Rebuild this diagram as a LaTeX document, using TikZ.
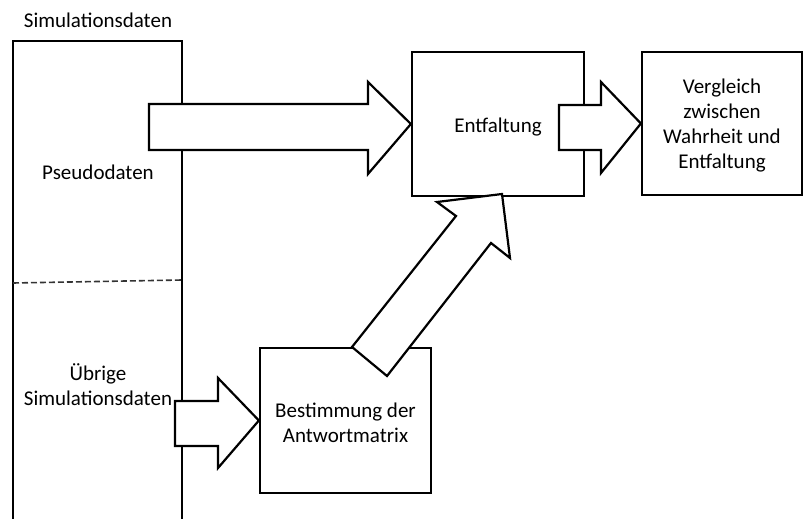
\documentclass[tikz,border=0pt]{standalone}
\usepackage{fontspec}
\setmainfont{Carlito}
\tikzset{
  box/.style={draw=black, line width=2.2pt, fill=white, inner sep=0pt, align=center,
    font=\fontsize{21}{25}\selectfont},
  lbl/.style={inner sep=0pt, align=center, font=\fontsize{21}{25}\selectfont},
  blockarrow/.style={draw=black, line width=2.2pt, fill=white, line join=miter},
  sep/.style={draw=black!80, line width=1.6pt, dash pattern=on 6pt off 3pt}
}
\begin{document}
\begin{tikzpicture}[x=1pt, y=-1pt]
\useasboundingbox (0,0) rectangle (803,519);
% left container
\draw[line width=2.2pt] (13,525) -- (13,41) -- (182,41) -- (182,525);
\draw[sep] (13,283) -- (182,280);
\node[lbl] (sim) at (98,20) {Simulationsdaten};
\node[lbl] (pseudo) at (98,172) {Pseudodaten};
\node[lbl] (uebrig) at (98,385) {Übrige\\Simulationsdaten};
% boxes
\node[box, minimum width=172pt, minimum height=144pt] (entf) at (498,124) {};
\node[lbl] (entftxt) at (498,127) {Entfaltung};
\node[box, minimum width=160pt, minimum height=143pt] (vgl) at (722,123.5) {};
\node[lbl] (vgltxt) at (722,126) {Vergleich\\zwischen\\Wahrheit und\\Entfaltung};
\node[box, minimum width=171pt, minimum height=145pt] (best) at (345.5,420.5) {};
\node[lbl] (besttxt) at (345.5,423) {Bestimmung der\\Antwortmatrix};
% block arrows
\coordinate (a1tip) at (entf.west);
\draw[blockarrow] (149,104) -- (368,104) -- (368,82) -- (a1tip) -- (368,174) -- (368,150) -- (149,150) -- cycle;
\coordinate (a2tip) at (vgl.west);
\draw[blockarrow] (559,105) -- (601,105) -- (601,82) -- (a2tip) -- (601,173) -- (601,150) -- (559,150) -- cycle;
\coordinate (a3tip) at (best.west);
\draw[blockarrow] (175,401) -- (218,401) -- (218,378) -- (a3tip) -- (218,468) -- (218,446) -- (175,446) -- cycle;
\coordinate (a4tip) at (502,194);
\draw[blockarrow] (352,347) -- (456,216) -- (437,202) -- (a4tip) -- (510,258) -- (491,243) -- (387,376) -- cycle;
\end{tikzpicture}
\end{document}
